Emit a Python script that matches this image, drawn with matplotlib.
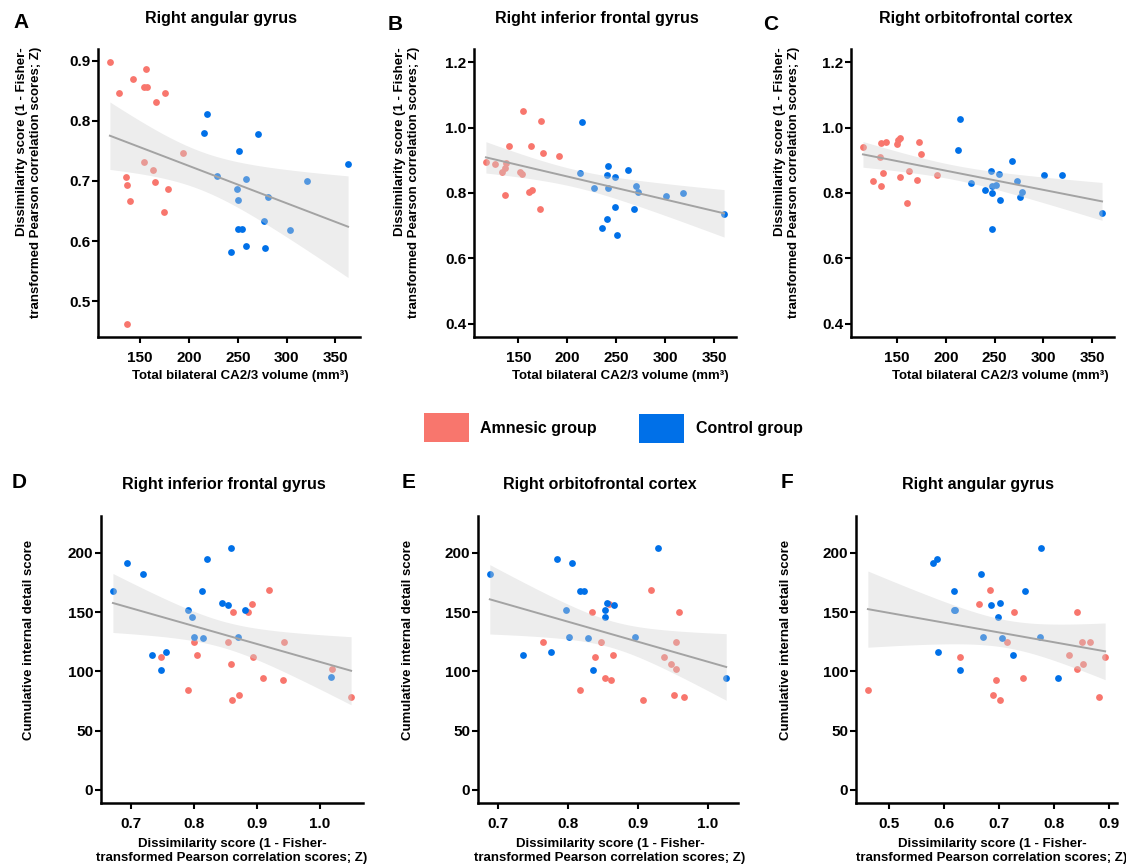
import numpy as np
import matplotlib
matplotlib.use('Agg')
import matplotlib.pyplot as plt
from matplotlib.patches import Rectangle

plt.rcParams['font.family'] = ['Liberation Sans', 'DejaVu Sans']
plt.rcParams['font.weight'] = 'bold'

red = '#F8766D'
blue = '#0070E8'

# A: right angular gyrus vs CA2/3 volume
a_amn_vol = [119, 128, 143, 156, 154, 157, 175, 166, 194, 154, 163, 135, 137, 165, 178, 140, 174, 137]
a_amn_dis = [0.898, 0.846, 0.870, 0.887, 0.856, 0.856, 0.846, 0.831, 0.747, 0.731, 0.718, 0.706,
             0.693, 0.698, 0.687, 0.666, 0.649, 0.462]
a_con_vol = [218, 215, 271, 251, 363, 229, 258, 321, 249, 250, 281, 277, 304, 250, 254, 258, 243, 278]
a_con_dis = [0.811, 0.780, 0.778, 0.750, 0.728, 0.708, 0.704, 0.700, 0.687, 0.669, 0.674, 0.633,
             0.619, 0.620, 0.620, 0.591, 0.582, 0.588]

# B: right inferior frontal gyrus vs CA2/3 volume
b_amn_vol = [117, 126, 133, 136, 138, 136, 141, 152, 154, 155, 163, 161, 164, 173, 175, 172, 192]
b_amn_dis = [0.894, 0.888, 0.864, 0.875, 0.893, 0.794, 0.944, 0.864, 0.858, 1.050, 0.943, 0.803,
             0.808, 1.020, 0.921, 0.750, 0.912]
b_con_vol = [215, 213, 227, 242, 241, 242, 249, 262, 270, 272, 249, 268, 241, 235, 251, 301, 318, 360]
b_con_dis = [1.018, 0.861, 0.816, 0.883, 0.856, 0.815, 0.848, 0.870, 0.822, 0.803, 0.758, 0.750,
             0.721, 0.694, 0.673, 0.792, 0.799, 0.735]

# C: right orbitofrontal cortex vs CA2/3 volume
c_amn_vol = [115, 125, 132, 134, 134, 136, 139, 150, 151, 153, 153, 162, 160, 172, 174, 170, 191]
c_amn_dis = [0.940, 0.838, 0.911, 0.954, 0.820, 0.862, 0.957, 0.950, 0.961, 0.967, 0.850, 0.866,
             0.768, 0.957, 0.920, 0.841, 0.856]
c_con_vol = [214, 212, 226, 246, 240, 247, 247, 251, 254, 255, 268, 273, 278, 276, 301, 319, 247, 360]
c_con_dis = [1.027, 0.931, 0.832, 0.867, 0.810, 0.800, 0.821, 0.823, 0.857, 0.779, 0.897, 0.838,
             0.803, 0.788, 0.856, 0.856, 0.690, 0.738]

# D: internal detail vs right inferior frontal gyrus dissimilarity
d_amn_x = [0.920, 0.892, 0.863, 0.887, 0.801, 0.854, 0.943, 0.806, 0.748, 0.894, 0.860, 1.019,
           0.910, 0.942, 0.791, 0.872, 0.861, 1.050]
d_amn_y = [169, 157, 150, 150, 125, 125, 125, 114, 112, 112, 106, 102, 94, 93, 84, 80, 76, 78]
d_con_x = [0.672, 0.694, 0.719, 0.814, 0.821, 0.859, 0.791, 0.797, 0.845, 0.855, 0.882, 0.801,
           0.815, 0.870, 0.734, 0.757, 0.748, 1.018]
d_con_y = [168, 191, 182, 168, 195, 204, 152, 146, 158, 156, 152, 129, 128, 129, 114, 116, 101, 95]

# E: internal detail vs right orbitofrontal cortex dissimilarity
e_amn_x = [0.918, 0.859, 0.834, 0.959, 0.764, 0.847, 0.954, 0.864, 0.839, 0.937, 0.947, 0.954,
           0.853, 0.861, 0.817, 0.952, 0.907, 0.965]
e_amn_y = [169, 157, 150, 150, 125, 125, 125, 114, 112, 112, 106, 102, 94, 93, 84, 80, 76, 78]
e_con_x = [0.688, 0.784, 0.806, 0.817, 0.822, 0.929, 0.856, 0.866, 0.853, 0.853, 0.797, 0.801,
           0.829, 0.895, 0.736, 0.776, 0.835, 1.026]
e_con_y = [182, 195, 191, 168, 168, 204, 158, 156, 152, 146, 152, 129, 128, 129, 114, 116, 101, 94]

# F: internal detail vs right angular gyrus dissimilarity
f_amn_x = [0.462, 0.630, 0.663, 0.684, 0.728, 0.715, 0.695, 0.690, 0.702, 0.743, 0.841, 0.827,
           0.851, 0.866, 0.852, 0.842, 0.893, 0.882]
f_amn_y = [84, 112, 157, 169, 150, 125, 93, 80, 76, 94, 150, 114, 125, 125, 106, 102, 112, 78]
f_con_x = [0.580, 0.587, 0.618, 0.621, 0.667, 0.776, 0.748, 0.702, 0.685, 0.618, 0.698, 0.671,
           0.706, 0.775, 0.589, 0.725, 0.630, 0.808]
f_con_y = [191, 195, 168, 152, 182, 204, 168, 158, 156, 152, 146, 129, 128, 129, 116, 114, 101, 94]

W, H = 1126, 868
fig = plt.figure(figsize=(W / 100, H / 100), dpi=100)


def px(x, y):
    return x / W, 1 - y / H


def lm_band(x, y, xs):
    # ordinary least squares with 95% confidence band (like geom_smooth(method='lm'))
    n = len(x)
    slope, icpt = np.polyfit(x, y, 1)
    pred = icpt + slope * xs
    resid = y - (icpt + slope * x)
    s = np.sqrt(np.sum(resid ** 2) / (n - 2))
    se = s * np.sqrt(1 / n + (xs - x.mean()) ** 2 / np.sum((x - x.mean()) ** 2))
    t = 2.03
    return pred, pred - t * se, pred + t * se


def panel(box, ax_x, ax_y, con_x, con_y, xticks, yticks, ylim=None):
    left, top, right, bottom = box
    ax = fig.add_axes([left / W, 1 - bottom / H, (right - left) / W, (bottom - top) / H])
    ax.scatter(ax_x, ax_y, s=24, color=red, linewidths=0, zorder=2)
    ax.scatter(con_x, con_y, s=24, color=blue, linewidths=0, zorder=2)
    x = np.array(ax_x + con_x, dtype=float)
    y = np.array(ax_y + con_y, dtype=float)
    xs = np.linspace(x.min(), x.max(), 100)
    pred, lo, hi = lm_band(x, y, xs)
    ax.fill_between(xs, lo, hi, color='#D2D2D2', alpha=0.4, linewidth=0, zorder=3)
    ax.plot(xs, pred, color='#A3A3A3', lw=1.4, zorder=4)
    ax.margins(0.05)
    if ylim is not None:
        ax.set_ylim(ylim)
    ax.set_xticks(xticks)
    ax.set_yticks(yticks)
    for side in ['top', 'right']:
        ax.spines[side].set_visible(False)
    for side in ['left', 'bottom']:
        ax.spines[side].set_linewidth(1.8)
    ax.tick_params(direction='out', length=4, width=1.5, labelsize=11, colors='black')
    ax.tick_params(axis='x', pad=6)
    ax.tick_params(axis='y', pad=1.5)
    for lab in ax.get_xticklabels() + ax.get_yticklabels():
        lab.set_fontweight('bold')
    return ax


ax1 = panel((98, 49, 360, 337), a_amn_vol, a_amn_dis, a_con_vol, a_con_dis,
            [150, 200, 250, 300, 350], [0.5, 0.6, 0.7, 0.8, 0.9])
ax1.yaxis.set_major_formatter(plt.FormatStrFormatter('%.1f'))
ax2 = panel((474, 49, 736, 337), b_amn_vol, b_amn_dis, b_con_vol, b_con_dis,
            [150, 200, 250, 300, 350], [0.4, 0.6, 0.8, 1.0, 1.2], ylim=(0.36, 1.24))
ax2.yaxis.set_major_formatter(plt.FormatStrFormatter('%.1f'))
ax3 = panel((851, 49, 1114, 337), c_amn_vol, c_amn_dis, c_con_vol, c_con_dis,
            [150, 200, 250, 300, 350], [0.4, 0.6, 0.8, 1.0, 1.2], ylim=(0.36, 1.24))
ax3.yaxis.set_major_formatter(plt.FormatStrFormatter('%.1f'))
ax4 = panel((101, 516, 363, 803), d_amn_x, d_amn_y, d_con_x, d_con_y,
            [0.7, 0.8, 0.9, 1.0], [0, 50, 100, 150, 200], ylim=(-11, 231))
ax4.xaxis.set_major_formatter(plt.FormatStrFormatter('%.1f'))
ax5 = panel((478, 516, 738, 803), e_amn_x, e_amn_y, e_con_x, e_con_y,
            [0.7, 0.8, 0.9, 1.0], [0, 50, 100, 150, 200], ylim=(-11, 231))
ax5.xaxis.set_major_formatter(plt.FormatStrFormatter('%.1f'))
ax6 = panel((856, 516, 1117, 803), f_amn_x, f_amn_y, f_con_x, f_con_y,
            [0.5, 0.6, 0.7, 0.8, 0.9], [0, 50, 100, 150, 200], ylim=(-11, 231))
ax6.xaxis.set_major_formatter(plt.FormatStrFormatter('%.1f'))

# panel letters and titles
letters = [('A', 13, 22), ('B', 388, 25), ('C', 763, 25), ('D', 12, 483), ('E', 402, 483), ('F', 781, 483)]
for t, x, y in letters:
    fig.text(*px(x, y), t, fontsize=15, fontweight='bold', ha='left', va='center')

titles = [('Right angular gyrus', 221, 18), ('Right inferior frontal gyrus', 597, 18),
          ('Right orbitofrontal cortex', 976, 18), ('Right inferior frontal gyrus', 224, 485),
          ('Right orbitofrontal cortex', 600, 485), ('Right angular gyrus', 978, 485)]
for t, x, y in titles:
    fig.text(*px(x, y), t, fontsize=11.5, fontweight='bold', ha='center', va='center')

dis_label = 'Dissimilarity score (1 - Fisher-\ntransformed Pearson correlation scores; Z)'
for x in [29, 407, 787]:
    fig.text(*px(x, 47), dis_label, fontsize=9.5, fontweight='bold', rotation=90,
             ha='center', va='top', multialignment='right', linespacing=1.2)
for x in [240, 620, 1000]:
    fig.text(*px(x, 376), 'Total bilateral CA2/3 volume (mm³)', fontsize=9.5,
             fontweight='bold', ha='center', va='center')

for x in [29, 408, 786]:
    fig.text(*px(x, 640), 'Cumulative internal detail score', fontsize=9.5, fontweight='bold',
             rotation=90, ha='center', va='center')
for x in [232, 610, 992]:
    fig.text(*px(x, 851), dis_label, fontsize=9.5, fontweight='bold', ha='center',
             va='center', multialignment='center', linespacing=1.2)

# legend
fig.add_artist(Rectangle(px(424, 442), 45 / W, 29 / H, transform=fig.transFigure,
                         facecolor=red, edgecolor='none'))
fig.text(*px(480, 428), 'Amnesic group', fontsize=11.5, fontweight='bold', ha='left', va='center')
fig.add_artist(Rectangle(px(639, 443), 45 / W, 29 / H, transform=fig.transFigure,
                         facecolor=blue, edgecolor='none'))
fig.text(*px(696, 428), 'Control group', fontsize=11.5, fontweight='bold', ha='left', va='center')

fig.savefig('out.png', dpi=100)
